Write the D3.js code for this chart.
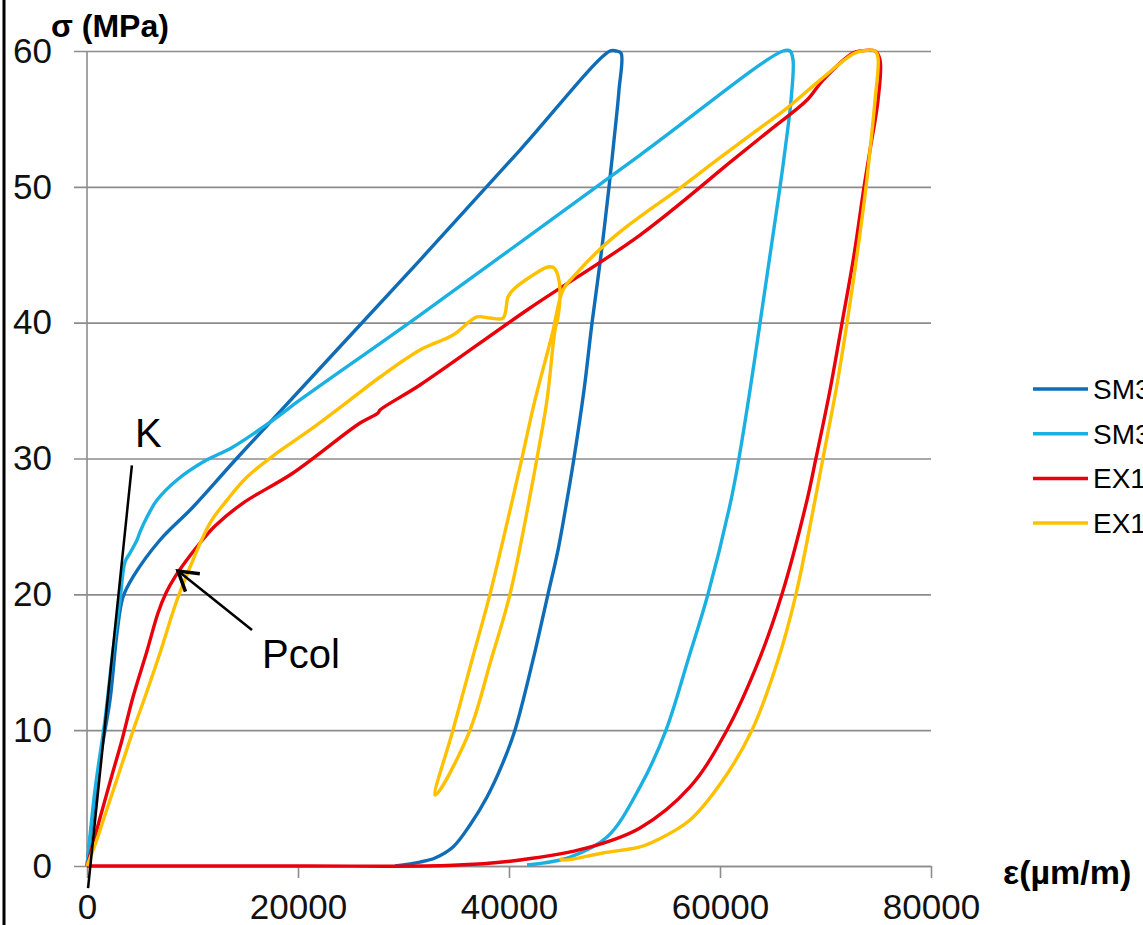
<!DOCTYPE html>
<html>
<head>
<meta charset="utf-8">
<script src="https://cdnjs.cloudflare.com/ajax/libs/d3/7.8.5/d3.min.js"></script>
<style>
  html, body { margin:0; padding:0; background:#fff; overflow:hidden; }
  svg { display:block; font-family:"Liberation Sans", Arial, sans-serif; }
</style>
</head>
<body>
<div id="canvas"></div>
<script>
// stress-strain curves, [strain (µm/m), stress (MPa)]
var sm30a = [[0,0],[1232,7.8],[2180,12.22],[2844,17.15],[3412,19.8],[4360,21.28],[6920,24.0],[10048,26.43],
  [14313,30.11],[31565,44.61],[41044,52.71],[49575,60.0],[50144,60.0],[50618,59.85],[50428,57.13],[49954,53.45],
  [49480,49.99],[48722,44.98],[47869,39.98],[47111,35.04],[46163,30.04],[45499,26.94],[44646,23.26],[43698,20.02],
  [42276,15.17],[40570,10.01],[39338,7.44],[37916,5.08],[36305,3.02],[34693,1.4],[32987,0.59],[31565,0.29],[29195,0]];

var sm30b = [[0,0],[758,5.6],[1706,10.75],[2465,15.9],[3128,19.58],[3602,22.38],[4076,23.04],[4740,24.0],
  [5024,24.59],[5687,25.69],[6635,26.94],[8531,28.42],[10996,29.74],[13839,30.85],[17631,32.83],[20190,34.31],
  [31565,40.56],[52419,52.34],[65974,60.0],[66637,60.0],[66922,59.34],[66732,56.39],[66163,52.71],[65689,49.99],
  [64742,44.98],[63794,39.98],[62846,35.04],[61803,30.04],[61045,26.94],[58865,20.02],[56969,15.17],[54883,10.01],
  [52419,5.82],[49291,2.13],[45784,0.66],[41708,0.07]];

var ex14a = [[0,0],[664,1.91],[1232,3.53],[2370,6.7],[3318,9.28],[4360,12.44],[5687,15.83],[6730,18.63],
  [7488,20.1],[8342,21.28],[9384,22.45],[10711,23.78],[12133,25.03],[14787,26.72],[19527,28.93],[25878,32.61],
  [27584,33.35],[27773,33.57],[31565,35.41],[41992,41.08],[52419,46.45],[61234,51.98],[64742,54.18],[68249,56.39],
  [69765,57.86],[72609,59.85],[73273,60.0],[74695,60.0],[75168,59.34],[74979,56.39],[74221,52.71],[73652,49.99],
  [72704,44.98],[71566,39.98],[70429,35.04],[69102,30.04],[68249,26.94],[65879,20.02],[63699,15.17],[60666,10.01],
  [57158,5.82],[52419,2.8],[47395,1.33],[41044,0.44],[34693,0.05],[20190,0],[0,0]];

var ex14b = [[0,0],[758,1.55],[1706,3.75],[3128,7.07],[4550,10.38],[5498,12.44],[6920,15.68],[8531,19.58],
  [10048,22.53],[11659,25.25],[13271,26.94],[15166,28.64],[18010,30.41],[21138,32.1],[24930,34.31],[27773,36.0],
  [31565,37.99],[34693,39.09],[36968,40.42],[38200,40.34],[39433,40.34],[39907,41.89],[40381,42.41],[41992,43.36],
  [43698,44.1],[44267,44.03],[44551,43.66],[44836,42.41],[44646,40.42],[44362,39.46],[43603,34.31],[42656,30.04],
  [42276,28.42],[40096,20.02],[38295,15.17],[36305,10.01],[33461,5.6],[32987,5.23],
  [34693,10.01],[36494,15.17],[38200,20.02],[40760,28.42],[41234,30.04],[42466,34.31],[44077,39.09],[45120,42.41],
  [46258,43.51],[48343,45.2],[50523,46.68],[52893,48.07],[56210,49.91],[59718,51.98],[63130,53.96],[66353,55.8],
  [69481,57.86],[72609,59.78],[73462,60.0],[74695,60.0],[74979,59.49],[74695,56.39],[74221,52.71],[73841,49.99],
  [72988,44.98],[72040,39.98],[70997,35.04],[69765,30.04],[69007,26.94],[67206,20.02],[65500,15.17],[63035,10.01],
  [60286,6.33],[57158,3.39],[54030,1.91],[52419,1.4],[48912,0.96],[45120,0.44],[44836,0.59]];

var seriesNames = ['SM30-1','SM30-2','EX14-1','EX14-2'];
var seriesColors = ['#0f6cb6','#1ab0e2','#e8000b','#ffc000'];
var seriesData = [sm30a, sm30b, ex14a, ex14b];

var xTicks = [0,20000,40000,60000,80000];
var yTicks = [0,10,20,30,40,50,60];

// annotations (data units)
var kLine = [[100,-1.62],[4255,29.5]];
var kLabel = [4550,30.85];
var arrowTail = [15640,17.37], arrowTip = [8626,21.72];
var pcolLabel = [16588,14.58];

var W = 1143, H = 925;
var m = {t:51, l:87, r:W-931, b:H-866};
var w = W - m.l - m.r, h = H - m.t - m.b;

var svg = d3.select('#canvas').append('svg')
  .attr('width',W).attr('height',H);

svg.append('line').attr('x1',4).attr('x2',4).attr('y1',0).attr('y2',H)
  .attr('stroke','#000').attr('stroke-width',3);

var plot = svg.append('g').attr('transform','translate('+m.l+','+m.t+')');

var x = d3.scaleLinear().domain([0,80000]).range([0,w]);
var y = d3.scaleLinear().domain([0,60]).range([h,0]);

// horizontal gridlines + y labels
var gy = plot.append('g').attr('transform','translate(-13,0)')
  .call(d3.axisLeft(y).tickValues(yTicks).tickSize(-(w+13)).tickPadding(22));
gy.select('.domain').remove();
gy.selectAll('line').attr('stroke','#8c8c8c').attr('stroke-width',1.6);
gy.selectAll('text').attr('font-size',35).attr('fill','#111')
  .attr('font-family','"Liberation Sans", Arial, sans-serif');

// vertical axis line
plot.append('line').attr('x1',0).attr('x2',0).attr('y1',0).attr('y2',h)
  .attr('stroke','#8c8c8c').attr('stroke-width',1.6);

// x axis
var gx = plot.append('g').attr('transform','translate(0,'+h+')')
  .call(d3.axisBottom(x).tickValues(xTicks).tickFormat(d3.format('d')).tickSize(12).tickPadding(16).tickSizeOuter(0));
gx.select('.domain').attr('stroke','#8c8c8c').attr('stroke-width',1.6);
gx.selectAll('line').attr('stroke','#8c8c8c').attr('stroke-width',1.6);
gx.selectAll('text').attr('font-size',35).attr('fill','#111')
  .attr('font-family','"Liberation Sans", Arial, sans-serif');

// curves
var line = d3.line()
  .x(function(d){ return x(d[0]); })
  .y(function(d){ return y(d[1]); })
  .curve(d3.curveCatmullRom.alpha(0.5));

plot.selectAll('path.series').data(seriesData).enter().append('path')
  .attr('class','series')
  .attr('d',line)
  .attr('fill','none')
  .attr('stroke',function(d,i){ return seriesColors[i]; })
  .attr('stroke-width',3.4)
  .attr('stroke-linejoin','round');

// K tangent line
plot.append('line')
  .attr('x1',x(kLine[0][0])).attr('y1',y(kLine[0][1]))
  .attr('x2',x(kLine[1][0])).attr('y2',y(kLine[1][1]))
  .attr('stroke','#000').attr('stroke-width',2.5);
plot.append('text').attr('x',x(kLabel[0])).attr('y',y(kLabel[1]))
  .attr('font-size',40).text('K');

// Pcol arrow
var tx = x(arrowTail[0]), ty = y(arrowTail[1]), px = x(arrowTip[0]), py = y(arrowTip[1]);
var ang = Math.atan2(ty-py, tx-px), hl = 22, spread = 0.55;
plot.append('line').attr('x1',tx).attr('y1',ty).attr('x2',px+3*Math.cos(ang)).attr('y2',py+3*Math.sin(ang))
  .attr('stroke','#000').attr('stroke-width',2.5);
plot.append('path')
  .attr('d','M'+(px+hl*Math.cos(ang-spread))+','+(py+hl*Math.sin(ang-spread))+
    'L'+px+','+py+'L'+(px+hl*Math.cos(ang+spread))+','+(py+hl*Math.sin(ang+spread)))
  .attr('fill','none').attr('stroke','#000').attr('stroke-width',3.5);
plot.append('text').attr('x',x(pcolLabel[0])).attr('y',y(pcolLabel[1]))
  .attr('font-size',40).text('Pcol');

// axis titles
svg.append('text').attr('x',51).attr('y',37).attr('font-size',32).attr('font-weight','bold')
  .text('σ (MPa)');
svg.append('text').attr('x',1003).attr('y',884).attr('font-size',34).attr('font-weight','bold')
  .text('ε(µm/m)');

// legend
var leg = svg.append('g').attr('transform','translate(1033,389)');
var rows = leg.selectAll('g').data(seriesNames).enter().append('g')
  .attr('transform',function(d,i){ return 'translate(0,'+(i*44.7)+')'; });
rows.append('line').attr('x1',0).attr('x2',55).attr('y1',0).attr('y2',0)
  .attr('stroke',function(d,i){ return seriesColors[i]; }).attr('stroke-width',3.5);
rows.append('text').attr('x',60).attr('y',10).attr('font-size',28).text(function(d){ return d; });
</script>
</body>
</html>
